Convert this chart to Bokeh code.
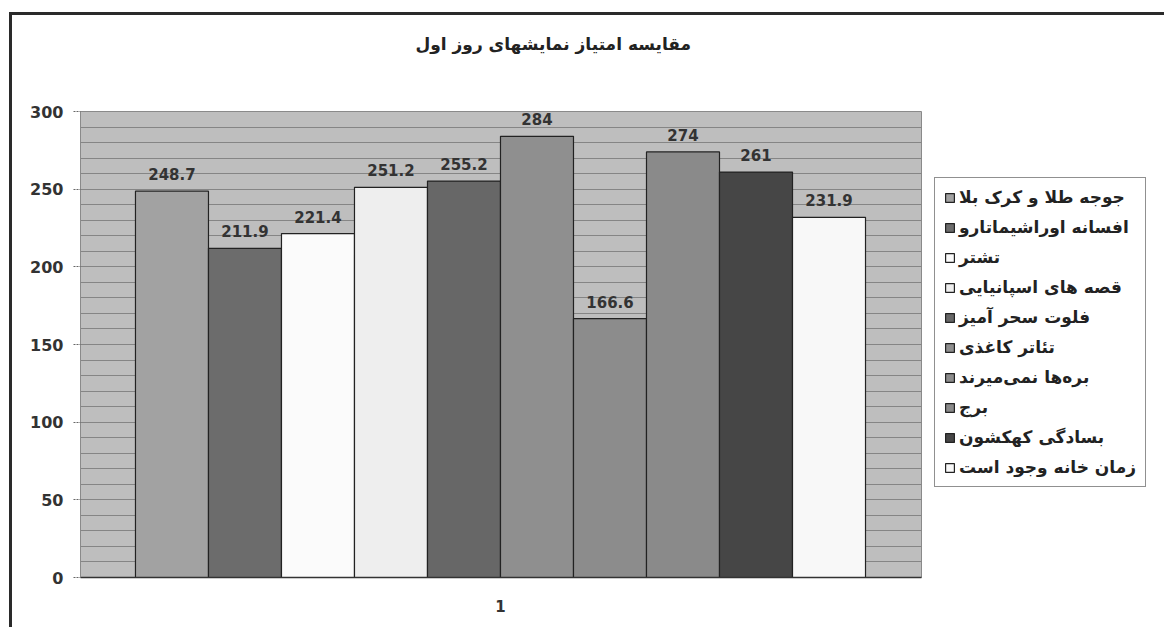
from bokeh.plotting import figure
from bokeh.models import (ColumnDataSource, LabelSet, Range1d, Legend, LegendItem,
                          SingleIntervalTicker, FixedTicker, Title)
from bokeh.core.properties import value, field
from bokeh.embed import file_html
from bokeh.resources import INLINE

chart_title = "مقایسه امتیاز نمایشهای روز اول"
shows = [
    "جوجه طلا و کرک بلا",
    "افسانه اوراشیماتارو",
    "تشتر",
    "قصه های اسپانیایی",
    "فلوت سحر آمیز",
    "تئاتر کاغذی",
    "بره‌ها نمی‌میرند",
    "برج",
    "بسادگی کهکشون",
    "زمان خانه وجود است",
]
scores = [248.7, 211.9, 221.4, 251.2, 255.2, 284, 166.6, 274, 261, 231.9]
score_labels = ["248.7", "211.9", "221.4", "251.2", "255.2", "284", "166.6", "274", "261", "231.9"]
bar_colors = ["#a2a2a2", "#6c6c6c", "#fbfbfb", "#eeeeee", "#676767",
              "#8f8f8f", "#8c8c8c", "#8a8a8a", "#464646", "#f8f8f8"]
category_label = "1"
y_ticks = [0, 50, 100, 150, 200, 250, 300]

FONT = "DejaVu Sans"

src = ColumnDataSource(dict(
    x=list(range(len(scores))),
    top=scores,
    name=shows,
    color=bar_colors,
    label=score_labels,
))

p = figure(frame_width=841, frame_height=466, output_backend="svg", toolbar_location=None,
           x_range=Range1d(-1.253, 10.267), y_range=Range1d(0, 300),
           min_border_left=68, min_border_right=0, min_border_top=96,
           min_border_bottom=50, title=None)

p.background_fill_color = "#bebebe"
p.border_fill_color = "white"
p.outline_line_color = "#8a8a8a"
p.outline_line_width = 1

r = p.vbar(x="x", top="top", width=1.0, source=src, fill_color="color",
           line_color="#222222", line_width=1.2)

labels = LabelSet(x="x", y="top", text="label", source=src, text_align="center",
                  text_baseline="bottom", y_offset=11, text_font=value(FONT),
                  text_font_style="bold", text_font_size="15px", text_color="#333333")
p.add_layout(labels)

# spacer between frame and title, then the title further out
spacer = Title(text=" ", standoff=36, text_font=FONT, text_font_size="17px")
p.add_layout(spacer, "above")
t = Title(text=chart_title, align="left", offset=335, standoff=0,
          text_font=FONT, text_font_style="bold", text_font_size="17px",
          text_color="#222222")
p.add_layout(t, "above")

# grid
p.xgrid.grid_line_color = None
p.yaxis.ticker = SingleIntervalTicker(interval=50, num_minor_ticks=5)
p.ygrid.grid_line_color = "#858585"
p.ygrid.grid_line_width = 1
p.ygrid.minor_grid_line_color = "#858585"
p.ygrid.minor_grid_line_width = 1

# y axis
p.yaxis.axis_line_color = "#8a8a8a"
p.yaxis.axis_line_dash = "2 2"
p.yaxis.major_tick_line_color = "#666666"
p.yaxis.major_tick_line_dash = "2 1"
p.yaxis.major_tick_out = 7
p.yaxis.major_tick_in = 0
p.yaxis.minor_tick_line_color = None
p.yaxis.major_label_standoff = 10
p.yaxis.major_label_text_font = FONT
p.yaxis.major_label_text_font_style = "bold"
p.yaxis.major_label_text_font_size = "16px"
p.yaxis.major_label_text_color = "#333333"

# x axis
p.xaxis.ticker = FixedTicker(ticks=[4.5])
p.xaxis.major_label_overrides = {4.5: category_label}
p.xaxis.axis_line_color = "#333333"
p.xaxis.axis_line_width = 1.5
p.xaxis.major_tick_line_color = None
p.xaxis.minor_tick_line_color = None
p.xaxis.major_label_standoff = 16
p.xaxis.major_label_text_font = FONT
p.xaxis.major_label_text_font_style = "bold"
p.xaxis.major_label_text_font_size = "15px"
p.xaxis.major_label_text_color = "#333333"

# legend
lg = Legend(items=[LegendItem(label=field("name"), renderers=[r])], location=(13, 90))
lg.border_line_color = "#222222"
lg.border_line_width = 1.5
lg.background_fill_color = "white"
lg.background_fill_alpha = 1
lg.padding = 9
lg.margin = 0
lg.spacing = 10
lg.label_height = 18
lg.glyph_height = 11
lg.glyph_width = 11
lg.label_standoff = 4
lg.label_text_font = FONT
lg.label_text_font_style = "bold"
lg.label_text_font_size = "17px"
lg.label_text_color = "#222222"
p.add_layout(lg, "right")

p.styles = {"border-top": "3px solid #2a2a2a", "border-left": "3px solid #2a2a2a",
            "margin-top": "12px", "margin-left": "9px"}

open("out.html", "w").write(file_html(p, INLINE))
